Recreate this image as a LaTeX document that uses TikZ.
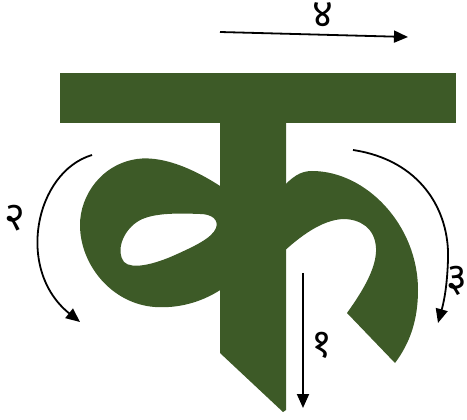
\documentclass[tikz,border=0pt]{standalone}
\usepackage{fontspec}
\usepackage{xcolor}
\usepackage{tikz}
\usetikzlibrary{arrows.meta}
\newfontfamily\devfont[Script=Devanagari]{Noto Sans}
\definecolor{cK}{HTML}{3D5A27}
\tikzset{
  glyph/.style={fill=cK, draw=none},
  strokearr/.style={line width=1.8pt, black, -{Triangle[length=14pt,width=12pt]}},
  numlab/.style={font=\devfont\fontsize{40}{40}\selectfont, inner sep=0pt},
}

\begin{document}
\begin{tikzpicture}[x=1pt, y=-1pt]
\useasboundingbox (0,0) rectangle (467,420);
\fill[glyph] (60,73) rectangle (456,123);
\fill[glyph] (220,110) -- (220,353) -- (283,412) -- (286,410) -- (286,110) -- cycle;
\fill[glyph, even odd rule]
  (226,190) .. controls (200,172) and (165,155) .. (137,159)
  .. controls (102,164) and (80,195) .. (80,225)
  .. controls (80,265) and (112,304) .. (155,307)
  .. controls (185,309) and (210,298) .. (226,286) -- cycle
  (200,214) .. controls (175,213) and (150,213) .. (137,222)
  .. controls (122,232) and (116,252) .. (124,262)
  .. controls (132,270) and (155,264) .. (175,255)
  .. controls (195,246) and (212,238) .. (216,228)
  .. controls (219,220) and (212,214) .. (200,214) -- cycle;
\fill[glyph]
  (280,190) .. controls (292,177) and (300,171) .. (312,171)
  .. controls (366,171) and (418,225) .. (418,290)
  .. controls (418,320) and (410,343) .. (395,363)
  -- (347,313)
  .. controls (362,292) and (377,268) .. (376,248)
  .. controls (375,228) and (360,219) .. (343,219)
  .. controls (322,220) and (300,236) .. (280,255) -- cycle;

\coordinate (s1a) at (303,273);
\coordinate (s1b) at (303,408);
\coordinate (s2a) at (92,155);
\coordinate (s2b) at (80,322);
\coordinate (s3a) at (353,150);
\coordinate (s3b) at (438,323);
\coordinate (s4a) at (220,32);
\coordinate (s4b) at (408,37);

\draw[strokearr] (s1a) -- (s1b);
\draw[strokearr] (s2a) .. controls (35,172) and (15,270) .. (s2b);
\draw[strokearr] (s3a) .. controls (420,160) and (450,210) .. (448,260) .. controls (447,290) and (443,305) .. (s3b);
\draw[strokearr] (s4a) -- (s4b);

\node[numlab] (n1) at (322,345) {१};
\node[numlab] (n2) at (15,218) {२};
\node[numlab] (n3) at (457,281) {३};
\node[numlab] (n4) at (323,15) {४};
\end{tikzpicture}
\end{document}
